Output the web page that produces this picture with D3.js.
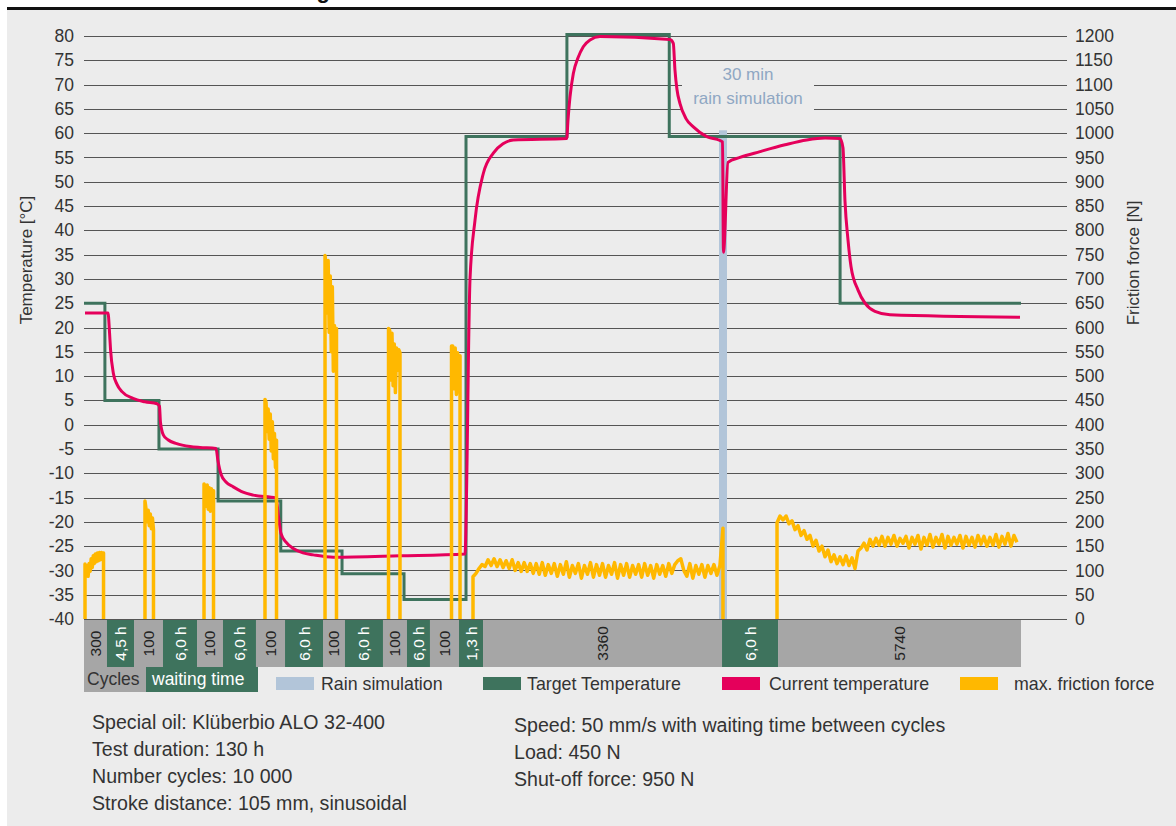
<!DOCTYPE html>
<html>
<head>
<meta charset="utf-8">
<script src="https://cdn.jsdelivr.net/npm/d3@7"></script>
<style>
    body { margin: 0; background: #fff; }
    svg { display: block; font-family: "Liberation Sans", Arial, sans-serif; }
    .tick text { fill: #333; font-size: 17.5px; }
    .label { fill: #333; }
</style>
</head>
<body>
<svg id="chart" width="1176" height="826"></svg>
<script>
// Time axis is nominal: 0..130 h test duration
const TIME_DOMAIN = [0, 130];

// Bottom strip: cycles / waiting time blocks
const segStarts = [0, 3.19, 6.94, 10.96, 15.68, 19.28, 23.86, 27.89, 33.16, 36.21, 41.48, 44.81, 48.00, 52.03, 55.36, 88.52, 96.29];
const segLabels = ["300", "4,5 h", "100", "6,0 h", "100", "6,0 h", "100", "6,0 h", "100", "6,0 h", "100", "6,0 h", "100", "1,3 h", "3360", "6,0 h", "5740"];
const segKinds = ["c", "w", "c", "w", "c", "w", "c", "w", "c", "w", "c", "w", "c", "w", "c", "w", "c"];

// Target temperature (°C), step after
const targetT = [0, 2.9, 10.4, 18.6, 27.3, 35.8, 44.4, 53.0, 67.0, 81.2, 104.9, 130];
const targetV = [25, 5, -5, -15.7, -26, -30.7, -36, 59.3, 80.3, 59.3, 25, 25];

// Current temperature (°C)
const currentT = [0.14, 3.33, 3.54, 3.68, 4.07, 4.58, 5.27, 6.80, 8.46, 10.13, 10.47, 10.61, 11.00, 11.65, 12.86, 14.71, 16.09, 18.31,
    18.59, 19.01, 19.70, 20.71, 22.06, 23.49, 26.64, 26.99, 27.33, 28.03, 29.04, 30.38, 31.81, 34.59, 43.84, 52.86,
    53.14, 53.35, 53.55, 54.25, 55.40, 56.79, 58.13, 59.56, 66.97, 67.15, 67.43, 67.89, 68.54, 69.27, 70.20, 71.59,
    81.30, 81.76, 81.99, 82.27, 82.69, 83.52, 84.54, 86.40, 88.24, 88.59, 88.72, 89.35, 91.01, 93.79, 97.26, 100.27,
    102.81, 104.89, 105.30, 105.58, 106.00, 106.42, 107.39, 108.36, 109.74, 111.82, 129.86];
const currentV = [23.0, 23.0, 19, 15.5, 10.6, 8.3, 6.8, 5.4, 4.7, 4.3, 3.8, 0.5, -2.1, -3.1, -3.9, -4.5, -4.7, -4.9,
    -7.5, -10.2, -11.8, -12.8, -13.9, -14.5, -15.1, -19, -22.4, -24.2, -25.5, -26.4, -26.8, -27.3, -27.0, -26.6,
    -8, 15, 29.8, 42.1, 51.7, 55.9, 57.8, 58.6, 58.9, 62.7, 67.5, 72.3, 75.5, 77.8, 79.2, 79.9,
    79.3, 78.5, 73, 69, 66.1, 63, 61.3, 59.3, 58.5, 58.2, 35.5, 54.0, 55.0, 56.2, 57.6, 58.6,
    59.0, 58.9, 57.0, 46.0, 38, 32.5, 27.7, 25, 23.3, 22.6, 22.1];

// Max. friction force (N), evenly sampled within each running block
const friction300 = [113, 90, 110, 88, 114, 98, 124, 106, 130, 114, 134, 118, 136, 120, 137, 122, 137, 124, 136];
const friction100a = [243, 226, 200, 224, 192, 216, 186, 208, 184];
const friction100b = [278, 272, 232, 276, 226, 270, 222, 268, 236, 264];
const friction100c = [452, 446, 386, 432, 370, 422, 346, 406, 330, 382, 312, 368];
const friction100d = [748, 726, 630, 738, 590, 706, 550, 684, 510, 604, 530, 598];
const friction100e = [598, 594, 492, 588, 480, 566, 466, 558, 512, 554, 548];
const friction100f = [562, 562, 474, 558, 462, 548, 468, 542];
const friction3360 = [87, 94, 104, 112, 108, 122, 110, 124, 108, 122, 106, 120, 104, 122, 100, 116, 98, 116, 98, 114,
    94, 114, 92, 116, 90, 112, 94, 114, 88, 112, 92, 118, 86, 110, 94, 114, 84, 110, 92, 116,
    86, 112, 90, 114, 86, 110, 92, 116, 84, 112, 90, 114, 86, 110, 92, 112, 86, 114, 90, 110,
    84, 112, 92, 110, 88, 114, 94, 112, 120, 124, 100, 88, 114, 84, 110, 92, 112, 86, 110, 94,
    112, 90, 110, 187];
const friction5740 = [198, 212, 204, 212, 196, 202, 184, 192, 172, 182, 164, 172, 150, 162, 140, 150, 128, 142, 118, 132,
    114, 128, 112, 130, 110, 126, 104, 140, 146, 156, 142, 164, 150, 166, 152, 170, 150, 168, 154, 172,
    150, 166, 156, 170, 146, 168, 154, 172, 144, 168, 152, 174, 148, 168, 154, 174, 146, 170, 152, 168,
    154, 172, 146, 170, 152, 168, 148, 172, 154, 170, 150, 168, 152, 174, 148, 170, 154, 176, 150, 172, 158];
const burstValues = [friction300, friction100a, friction100b, friction100c, friction100d, friction100e, friction100f, friction3360, friction5740];
const burstFrom = [0.14, 8.46, 16.65, 25.11, 33.44, 42.25, 50.99, 53.97, 96.15];
const burstTo = [2.71, 9.64, 17.97, 26.71, 35.03, 43.84, 52.17, 88.65, 129.44];
const burstDrops = [true, true, true, true, true, true, true, true, false];

// Rain simulation
const rainFrom = 88.10, rainTo = 89.21, rainTop = 60.6;

const tempTicks = d3.range(-40, 81, 5);
const forceTicks = d3.range(0, 1201, 50);

const COLORS = {
    bg: "#ececec",
    grey: "#a6a6a6",
    green: "#3e735d",
    pink: "#e5005b",
    yellow: "#ffb800",
    rain: "#b2c5d9",
    rainText: "#8fa7c3",
    grid: "#555"
};

const svg = d3.select("#chart");
const W = 1176, H = 826;

// Panel + header rule
svg.append("rect").attr("x", 7).attr("y", 10).attr("width", W - 7).attr("height", H - 10).attr("fill", COLORS.bg);
svg.append("line").attr("x1", 7).attr("x2", W).attr("y1", 8.5).attr("y2", 8.5)
    .attr("stroke", "#111").attr("stroke-width", 3);
svg.append("text").attr("x", 330).attr("y", -2.5).attr("text-anchor", "end")
    .attr("font-size", 22).attr("font-weight", "bold").attr("fill", "#111")
    .text("Results of climate chamber testing");

const plotLeft = 84, plotRight = 1067;
const x = d3.scaleLinear().domain(TIME_DOMAIN).range([84, 1021]);
const yT = d3.scaleLinear().domain([-40, 80]).range([619, 36]);
const yF = d3.scaleLinear().domain([0, 1200]).range([619, 36]);

// Left axis with gridlines
const leftAxis = svg.append("g")
    .attr("transform", "translate(" + plotLeft + ",0)")
    .call(d3.axisLeft(yT).tickValues(tempTicks).tickSize(-(plotRight - plotLeft)).tickPadding(10).tickFormat((d) => String(d)));
leftAxis.select(".domain").remove();
leftAxis.selectAll(".tick line").attr("stroke", COLORS.grid).attr("shape-rendering", "crispEdges");
leftAxis.attr("font-family", null).attr("font-size", null);

const rightAxis = svg.append("g")
    .attr("transform", "translate(" + plotRight + ",0)")
    .call(d3.axisRight(yF).tickValues(forceTicks).tickSize(0).tickPadding(8).tickFormat((d) => String(d)));
rightAxis.select(".domain").remove();
rightAxis.attr("font-family", null).attr("font-size", null);

svg.append("text").attr("class", "label")
    .attr("transform", "translate(32,260) rotate(-90)")
    .attr("text-anchor", "middle").attr("font-size", 17)
    .text("Temperature [°C]");
svg.append("text").attr("class", "label")
    .attr("transform", "translate(1139,263) rotate(-90)")
    .attr("text-anchor", "middle").attr("font-size", 17)
    .text("Friction force [N]");

// Rain simulation bar
svg.append("rect")
    .attr("x", x(rainFrom)).attr("width", x(rainTo) - x(rainFrom))
    .attr("y", yT(rainTop)).attr("height", yT(-40) - yT(rainTop))
    .attr("fill", COLORS.rain);

// Annotation box + text
const annX = x(rainTo) + 21;
svg.append("rect").attr("x", annX - 66).attr("y", 62).attr("width", 132).attr("height", 48).attr("fill", COLORS.bg);
svg.append("text").attr("x", annX).attr("y", 80).attr("text-anchor", "middle")
    .attr("font-size", 17).attr("fill", COLORS.rainText).text("30 min");
svg.append("text").attr("x", annX).attr("y", 104).attr("text-anchor", "middle")
    .attr("font-size", 17).attr("fill", COLORS.rainText).text("rain simulation");

// Target temperature
const targetLine = d3.line().curve(d3.curveStepAfter)
    .x((d, i) => x(targetT[i])).y((d) => yT(d));
svg.append("path").attr("d", targetLine(targetV))
    .attr("fill", "none").attr("stroke", COLORS.green).attr("stroke-width", 3);

// Current temperature
const currentLine = d3.line().curve(d3.curveMonotoneX)
    .x((d, i) => x(currentT[i])).y((d) => yT(d));
svg.append("path").attr("d", currentLine(currentV))
    .attr("fill", "none").attr("stroke", COLORS.pink).attr("stroke-width", 3);

// Friction force
const frictionLine = d3.line().x((d) => x(d[0])).y((d) => yF(d[1]));
burstValues.forEach((values, b) => {
    const from = burstFrom[b], to = burstTo[b];
    const step = (to - from) / (values.length - 1);
    const pts = [[from, 0]].concat(values.map((v, i) => [from + i * step, v]));
    if (burstDrops[b]) pts.push([to, 0]);
    svg.append("path").attr("d", frictionLine(pts))
        .attr("fill", "none").attr("stroke", COLORS.yellow).attr("stroke-width", 3.5)
        .attr("stroke-linejoin", "round");
});

// Bottom strip
const segTop = 620, segBottom = 667;
const segs = segLabels.map((label, i) => ({
    label: label,
    kind: segKinds[i],
    t0: segStarts[i],
    t1: i + 1 < segStarts.length ? segStarts[i + 1] : TIME_DOMAIN[1]
}));
const segG = svg.append("g").selectAll("g").data(segs).enter().append("g");
segG.append("rect")
    .attr("x", (d) => x(d.t0)).attr("width", (d) => x(d.t1) - x(d.t0))
    .attr("y", segTop).attr("height", segBottom - segTop)
    .attr("fill", (d) => d.kind === "c" ? COLORS.grey : COLORS.green);
segG.append("text")
    .attr("transform", (d) => "translate(" + ((x(d.t0) + x(d.t1)) / 2 + 5.5) + "," + ((segTop + segBottom) / 2) + ") rotate(-90)")
    .attr("text-anchor", "middle").attr("font-size", 15.5)
    .attr("fill", (d) => d.kind === "c" ? "#222" : "#fff")
    .text((d) => d.label);

// Legend row
const legY = 667, legH = 25;
svg.append("rect").attr("x", 84).attr("y", legY).attr("width", 62).attr("height", legH).attr("fill", COLORS.grey);
svg.append("text").attr("class", "label").attr("x", 87).attr("y", legY + 18).attr("font-size", 17.5).attr("fill", "#222").text("Cycles");
svg.append("rect").attr("x", 146).attr("y", legY).attr("width", 112).attr("height", legH).attr("fill", COLORS.green);
svg.append("text").attr("x", 152).attr("y", legY + 18).attr("font-size", 17.5).attr("fill", "#fff").text("waiting time");

const legendItems = [
    { label: "Rain simulation", color: COLORS.rain, x: 276, tx: 321 },
    { label: "Target Temperature", color: COLORS.green, x: 483, tx: 527 },
    { label: "Current temperature", color: COLORS.pink, x: 722, tx: 769 },
    { label: "max. friction force", color: COLORS.yellow, x: 960, tx: 1014 }
];
legendItems.forEach((item) => {
    svg.append("rect").attr("x", item.x).attr("y", 677).attr("width", 38).attr("height", 13).attr("fill", item.color);
    svg.append("text").attr("class", "label").attr("x", item.tx).attr("y", 690).attr("font-size", 17.8).text(item.label);
});

// Test conditions
const leftNotes = ["Special oil: Klüberbio ALO 32-400", "Test duration: 130 h", "Number cycles: 10 000", "Stroke distance: 105 mm, sinusoidal"];
const rightNotes = ["Speed: 50 mm/s with waiting time between cycles", "Load: 450 N", "Shut-off force: 950 N"];
leftNotes.forEach((t, i) => {
    svg.append("text").attr("class", "label").attr("x", 92).attr("y", 729 + i * 27).attr("font-size", 19.6).text(t);
});
rightNotes.forEach((t, i) => {
    svg.append("text").attr("class", "label").attr("x", 514).attr("y", 732 + i * 27).attr("font-size", 19.6).text(t);
});
</script>
</body>
</html>
